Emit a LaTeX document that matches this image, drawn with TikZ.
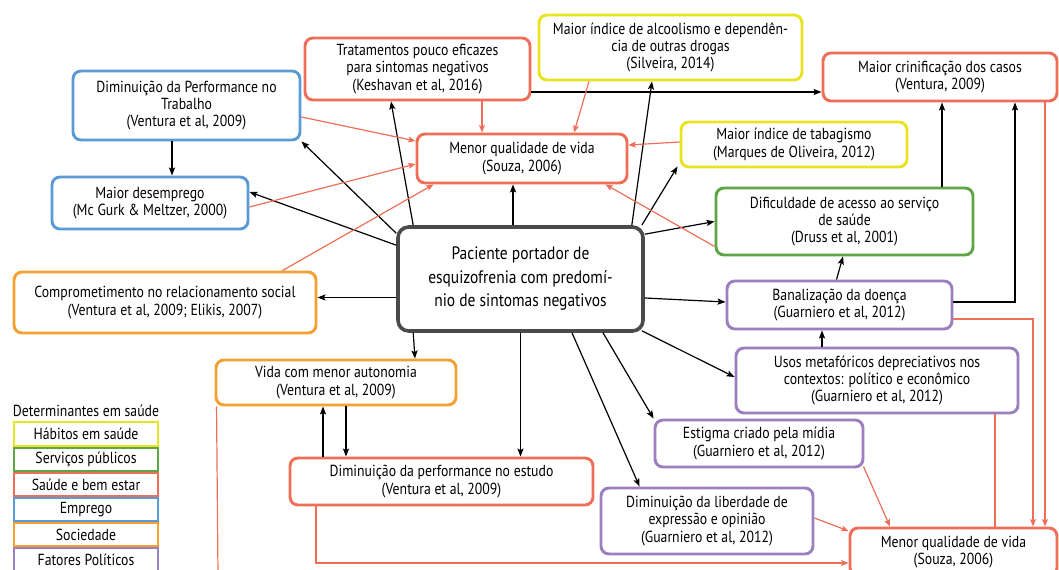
\documentclass[tikz,border=0pt]{standalone}
\usepackage{fontspec}
\setmainfont{PT Sans}[FakeStretch=0.86]
\usetikzlibrary{arrows.meta,calc}

\definecolor{cyel}{HTML}{E8E420}
\definecolor{cgreen}{HTML}{5DA545}
\definecolor{cred}{HTML}{EF6E58}
\definecolor{cblue}{HTML}{5B9BD5}
\definecolor{corange}{HTML}{F5A030}
\definecolor{cpurple}{HTML}{9C7FBF}
\definecolor{cdark}{HTML}{4A4A4A}

\begin{document}
\begin{tikzpicture}[x=0.75pt,y=-0.75pt,
  sz/.style 2 args={minimum width={#1*0.75pt}, minimum height={#2*0.75pt}},
  txt/.style={font=\fontsize{12}{13}\selectfont},
  box/.style={draw, rounded corners=6pt, line width=2.2pt, fill=white,
    inner sep=0pt, align=center, txt},
  mainbox/.style={draw=cdark, rounded corners=8pt, line width=2.7pt, fill=white,
    inner sep=0pt, align=center, font=\fontsize{13.5}{17.6}\selectfont},
  legbox/.style={draw, line width=1.3pt, fill=white, inner sep=0pt, txt,
    sz={144}{23.5}},
  arr/.style={-{Stealth[length=6pt,width=4.6pt,inset=1.2pt]}, line width=0.9pt, black},
  rarr/.style={-{Stealth[length=5.5pt,width=4.4pt,inset=1.1pt]}, line width=0.9pt, cred},
  rline/.style={line width=0.9pt, cred}]

\useasboundingbox (0,0) rectangle (1059,570);
\clip (0,0) rectangle (1059,570);

% central node
\node[mainbox, sz={245}{104}] (pac) at (520.5,279)
  {Paciente portador de\\esquizofrenia com predomí-\\nio de sintomas negativos};

% consequences
\node[box, draw=cred, sz={225}{62}] (trat) at (417.5,69)
  {Tratamentos pouco eficazes\\para sintomas negativos\\(Keshavan et al, 2016)};
\node[box, draw=cyel, sz={263}{65}] (alc) at (670.5,47.5)
  {Maior índice de alcoolismo e dependên-\\cia de outras drogas\\(Silveira, 2014)};
\node[box, draw=cred, sz={234}{48}] (crin) at (940,77)
  {Maior crinificação dos casos\\(Ventura, 2009)};
\node[box, draw=cblue, sz={227}{69}] (trab) at (186.5,105.5)
  {Diminuição da Performance no\\Trabalho\\(Ventura et al, 2009)};
\node[box, draw=cblue, sz={196}{52}] (desemp) at (150,203)
  {Maior desemprego\\(Mc Gurk \& Meltzer, 2000)};
\node[box, draw=cred, sz={210}{49}] (menor1) at (522,158.5)
  {Menor qualidade de vida\\(Souza, 2006)};
\node[box, draw=cyel, sz={226}{45}] (tabag) at (794,144.5)
  {Maior índice de tabagismo\\(Marques de Oliveira, 2012)};
\node[box, draw=cgreen, sz={257}{67}] (dific) at (844.5,221.5)
  {Dificuldade de acesso ao serviço\\de saúde\\(Druss et al, 2001)};
\node[box, draw=corange, sz={302}{61}] (comp) at (165,302.5)
  {Comprometimento no relacionamento social\\(Ventura et al, 2009; Elikis, 2007)};
\node[box, draw=cpurple, sz={225}{48}] (banal) at (839.5,305)
  {Banalização da doença\\(Guarniero et al, 2012)};
\node[box, draw=cpurple, sz={282}{65}] (usos) at (877,380.5)
  {Usos metafóricos depreciativos nos\\contextos: político e econômico\\(Guarniero et al, 2012)};
\node[box, draw=corange, sz={240}{45}] (vida) at (336,382.5)
  {Vida com menor autonomia\\(Ventura et al, 2009)};
\node[box, draw=cpurple, sz={208}{47}] (estig) at (759,443.5)
  {Estigma criado pela mídia\\(Guarniero et al, 2012)};
\node[box, draw=cred, sz={303}{47}] (estudo) at (441.5,481.5)
  {Diminuição da performance no estudo\\(Ventura et al, 2009)};
\node[box, draw=cpurple, sz={212}{66}] (liber) at (707,521)
  {Diminuição da liberdade de\\expressão e opinião\\(Guarniero et al, 2012)};
\node[box, draw=cred, sz={207}{48}] (menor2) at (953.5,552)
  {Menor qualidade de vida\\(Souza, 2006)};

% legend
\node[txt, inner sep=0pt] (legtitle) at (86,411) {Determinantes em saúde};
\node[legbox, draw=cyel] (lg1) at (86,434) {Hábitos em saúde};
\node[legbox, draw=cgreen] (lg2) at (86,459.5) {Serviços públicos};
\node[legbox, draw=cred] (lg3) at (86,484.5) {Saúde e bem estar};
\node[legbox, draw=cblue] (lg4) at (86,509.5) {Emprego};
\node[legbox, draw=corange] (lg5) at (86,534.5) {Sociedade};
\node[legbox, draw=cpurple] (lg6) at (86,560) {Fatores Políticos};

% black connectors from the central node
\draw[arr] ($(pac.north west)+(0,8)$) -- (trab.south east);
\draw[arr] ($(pac.north west)+(0,20)$) -- ($(desemp.east)+(0,-11)$);
\draw[arr] ($(pac.north west)+(17,0)$) -- ($(trat.south)+(-26.5,0)$);
\draw[arr] ($(pac.north)+(-7.5,0)$) -- ($(menor1.south)+(-9,0)$);
\draw[arr] ($(pac.north east)+(-13,0)$) -- ($(alc.south)+(-18.5,0)$);
\draw[arr] ($(pac.north east)+(-3,0)$) -- ($(tabag.south west)+(-2,-2)$);
\draw[arr] ($(pac.north east)+(0,9)$) -- (dific.west);
\draw[arr] ($(pac.west)+(0,18.5)$) -- ($(comp.east)+(0,-5)$);
\draw[arr] ($(pac.east)+(0,19)$) -- ($(banal.west)+(0,-3)$);
\draw[arr] ($(pac.south west)+(17,0)$) -- ($(vida.north)+(79,0)$);
\draw[arr] (pac.south) -- ($(estudo.north)+(79,0)$);
\draw[arr] ($(pac.south)+(51.5,0)$) -- ($(liber.north west)+(40,0)$);
\draw[arr] ($(pac.south)+(82.5,0)$) -- (estig.north west);
\draw[arr] ($(pac.south east)+(-3,-2)$) -- ($(usos.west)+(0,-3.5)$);

% other black connectors
\draw[arr] ($(trab.south)+(-14.5,0)$) -- ($(desemp.north)+(22,0)$);
\draw[arr] ($(trat.east)+(0,23)$) -- ($(crin.west)+(0,15)$);
\draw[arr] ($(dific.north)+(97.5,0)$) -- ($(crin.south)+(2,0)$);
\draw[arr] ($(banal.east)+(0,-3)$) -| ($(crin.south)+(75,0)$);
\draw[arr] ($(banal.north)+(-3,0)$) -- ($(dific.south)+(-1.5,0)$);
\draw[arr] ($(usos.north)+(-55,0)$) -- ($(banal.south)+(-17.5,0)$);
\draw[arr] ($(estudo.north)+(-118.5,0)$) -- ($(vida.south)+(-13,0)$);
\draw[arr] ($(vida.south)+(10,0)$) -- ($(estudo.north)+(-95.5,0)$);

% quality-of-life connectors
\draw[rarr] ($(trab.east)+(0,11.5)$) -- ($(menor1.west)+(0,-17.5)$);
\draw[rarr] ($(desemp.east)+(0,4)$) -- ($(menor1.west)+(0,5.5)$);
\draw[rarr] ($(comp.north east)+(-35,0)$) -- ($(menor1.south west)+(18,0)$);
\draw[rarr] ($(trat.south)+(64.5,0)$) -- ($(menor1.north)+(-40,0)$);
\draw[rarr] ($(alc.south)+(-81.5,0)$) -- ($(menor1.north)+(52,0)$);
\draw[rarr] ($(tabag.west)+(0,-2.5)$) -- ($(menor1.east)+(0,-13.5)$);
\draw[rarr] ($(dific.south west)+(0,-10)$) -- ($(menor1.south east)+(-23,0)$);
\draw[rarr] ($(crin.south)+(105,0)$) -- ($(menor2.north)+(91.5,0)$);
\draw[rarr] ($(banal.east)+(0,14)$) -| ($(menor2.north)+(79.5,0)$);
\draw[rline] ($(usos.south)+(118,0)$) -- ($(menor2.north)+(41.5,0)$);
\draw[rarr] ($(estig.south east)+(-1,-2)$) -- ($(menor2.north)+(-63.5,0)$);
\draw[rarr] ($(liber.east)+(0,-3)$) -- ($(menor2.west)+(0,-21)$);
\draw[rarr] ($(estudo.south)+(-125.5,0)$) |- ($(menor2.west)+(0,11)$);
\coordinate (vidaout) at (218,575);
\draw[rline] ($(vida.south west)+(2,0)$) -- (vidaout);

\end{tikzpicture}
\end{document}
